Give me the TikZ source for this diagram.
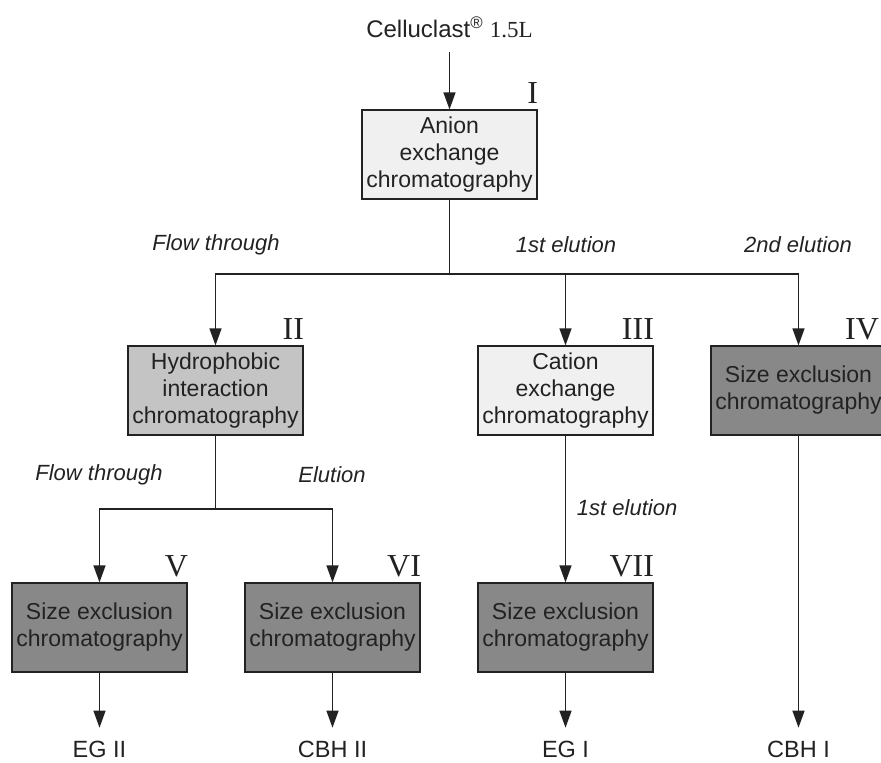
\documentclass[tikz,border=0pt]{standalone}
\usepackage{fontspec}
\setmainfont{Liberation Sans}
\newfontfamily\romfont{Liberation Serif}
\usetikzlibrary{arrows.meta,positioning}
\definecolor{inkgray}{RGB}{34,34,34}
\definecolor{boxlight}{RGB}{240,240,240}
\definecolor{boxmid}{RGB}{196,196,196}
\definecolor{boxdark}{RGB}{136,136,136}

\begin{document}
\begin{tikzpicture}[x=1pt,y=-1pt,>={Triangle[length=17pt,width=12pt]},
    color=inkgray,line width=1.3pt,
    stage/.style={draw=inkgray,line width=1.2pt,minimum width=175pt,minimum height=89pt,
      inner sep=0pt,align=center,font=\fontsize{23}{27}\selectfont},
    branch/.style={font=\fontsize{22}{26}\selectfont\itshape},
    product/.style={inner sep=0pt,outer ysep=13pt,font=\fontsize{23.5}{28}\selectfont},
    numeral/.style={inner sep=0pt,anchor=base east,font=\fontsize{32}{36}\romfont}]
  \useasboundingbox (0,0) rectangle (881,763);
  % source and first column
  \node[inner sep=0pt,outer ysep=14pt,font=\fontsize{24}{28}\selectfont] (cel) at (449.5,27)
    {Celluclast\textsuperscript{\textregistered}~{\romfont\fontsize{23}{28}\selectfont 1.5L}};
  \node[stage,fill=boxlight] (aex) at (449.5,154.5) {Anion\\exchange\\chromatography};
  \node[stage,fill=boxmid] (hic) at (215.5,390.5) {Hydrophobic\\interaction\\chromatography};
  \node[stage,fill=boxlight] (cex) at (565.5,390.5) {Cation\\exchange\\chromatography};
  \node[stage,fill=boxdark] (seciv) at (798.5,390.5) {Size exclusion\\chromatography};
  \node[stage,fill=boxdark] (secv) at (99.5,627.5) {Size exclusion\\chromatography};
  \node[stage,fill=boxdark] (secvi) at (332.5,627.5) {Size exclusion\\chromatography};
  \node[stage,fill=boxdark] (secvii) at (565.5,627.5) {Size exclusion\\chromatography};
  % products
  \node[product] (egii) at (99.5,749) {EG II};
  \node[product] (cbhii) at (332.5,749) {CBH II};
  \node[product] (egi) at (565.5,749) {EG I};
  \node[product] (cbhi) at (798.5,749) {CBH I};
  % roman numbers
  \foreach \b/\r in {aex/I,hic/II,cex/III,secv/V,secvi/VI,secvii/VII}
    \node[numeral] (num-\b) at ([xshift=1pt,yshift=6pt]\b.north east) {\r};
  \node[numeral] (num-seciv) at ([xshift=-7pt,yshift=6pt]seciv.north east) {IV};
  % fractions
  \node[branch] (flow1) at (216,245) {Flow through};
  \node[branch] (elu1) at (566,245) {1st elution};
  \node[branch] (elu2) at (798,245) {2nd elution};
  \node[branch] (flow2) at (99,475) {Flow through};
  \node[branch] (elu3) at (332,475) {Elution};
  \node[branch,anchor=west] (elu4) at (573,508) {1st elution};
  % connectors
  \coordinate (split1) at (449.5,274);
  \coordinate (split2) at (215.5,509);
  \draw[->] (cel) -- (aex);
  \draw (aex) -- (split1);
  \draw[->] (split1) -| (hic);
  \draw[->] (split1) -| (cex);
  \draw[->] (split1) -| (seciv);
  \draw (hic) -- (split2);
  \draw[->] (split2) -| (secv);
  \draw[->] (split2) -| (secvi);
  \draw[->] (cex) -- (secvii);
  \draw[->] (secv) -- (egii);
  \draw[->] (secvi) -- (cbhii);
  \draw[->] (secvii) -- (egi);
  \draw[->] (seciv) -- (cbhi);
\end{tikzpicture}
\end{document}
